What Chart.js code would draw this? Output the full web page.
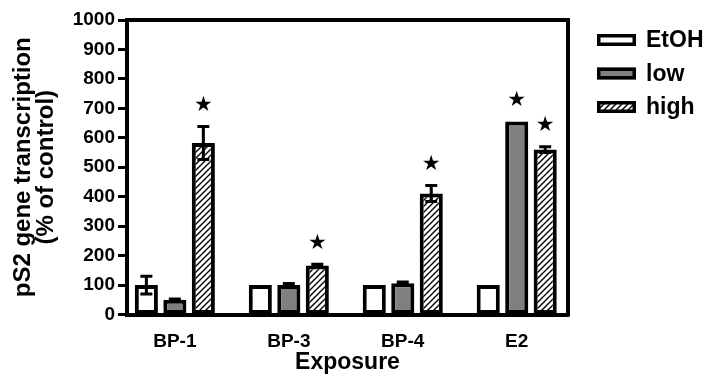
<!DOCTYPE html>
<html>
<head>
<meta charset="utf-8">
<script src="https://cdn.jsdelivr.net/npm/chart.js@4/dist/chart.umd.min.js"></script>
<style>
  html, body { margin: 0; padding: 0; background: #fff; }
  #wrap { width: 709px; height: 376px; position: relative; }
</style>
</head>
<body>
<div id="wrap"><canvas id="c" width="709" height="376"></canvas></div>
<script>
// Exposure groups and treatment series
const categories = ['BP-1', 'BP-3', 'BP-4', 'E2'];
const seriesNames = ['EtOH', 'low', 'high'];

// pS2 transcription, % of control
const etohValues = [100, 100, 100, 100];
const lowValues  = [50, 100, 106, 655];
const highValues = [582, 166, 411, 560];

// standard error
const etohErrors = [30, 0, 0, 0];
const lowErrors  = [3, 5, 4, 0];
const highErrors = [56, 5, 27, 10];

// significance markers
const etohStars = [false, false, false, false];
const lowStars  = [false, false, false, true];
const highStars = [true, true, true, true];

const yTicks = [0, 100, 200, 300, 400, 500, 600, 700, 800, 900, 1000];

const FONT = "'Liberation Sans', Arial, sans-serif";

// diagonal hatch fill
function makeHatch() {
  const s = 6;
  const c = document.createElement('canvas');
  c.width = s; c.height = s;
  const g = c.getContext('2d');
  g.fillStyle = '#fff';
  g.fillRect(0, 0, s, s);
  g.strokeStyle = '#000';
  g.lineWidth = 1.4;
  g.beginPath();
  g.moveTo(-1, s + 1); g.lineTo(s + 1, -1);
  g.moveTo(-1, 1); g.lineTo(1, -1);
  g.moveTo(s - 1, s + 1); g.lineTo(s + 1, s - 1);
  g.stroke();
  return g.createPattern(c, 'repeat');
}

const ctx = document.getElementById('c').getContext('2d');
const hatch = makeHatch();

function toPoints(vals) { return vals.map((v, i) => ({ x: i, y: v })); }

const datasets = [
  { label: seriesNames[0], data: toPoints(etohValues), backgroundColor: '#ffffff', errors: etohErrors, stars: etohStars },
  { label: seriesNames[1], data: toPoints(lowValues),  backgroundColor: '#808080', errors: lowErrors,  stars: lowStars },
  { label: seriesNames[2], data: toPoints(highValues), backgroundColor: hatch,     errors: highErrors, stars: highStars }
].map(d => Object.assign(d, {
  borderColor: '#000',
  borderWidth: 4,
  borderSkipped: false,
  categoryPercentage: 0.75,
  barPercentage: 0.81
}));

// error bars and significance stars above each bar
const errorBars = {
  id: 'errorBars',
  afterDatasetsDraw(chart) {
    const y = chart.scales.y;
    const c = chart.ctx;
    c.save();
    chart.data.datasets.forEach((ds, di) => {
      const meta = chart.getDatasetMeta(di);
      meta.data.forEach((bar, i) => {
        const v = ds.data[i].y;
        const e = ds.errors[i];
        const yt = y.getPixelForValue(v + e);
        if (e > 0) {
          const yb = y.getPixelForValue(v - e);
          c.strokeStyle = '#000';
          c.lineWidth = 3;
          c.beginPath();
          c.moveTo(bar.x, yt); c.lineTo(bar.x, yb);
          c.moveTo(bar.x - 6, yt); c.lineTo(bar.x + 6, yt);
          c.moveTo(bar.x - 6, yb); c.lineTo(bar.x + 6, yb);
          c.stroke();
        }
        if (ds.stars[i]) {
          c.fillStyle = '#000';
          c.font = "21px 'DejaVu Sans'";
          c.textAlign = 'center';
          c.textBaseline = 'middle';
          c.fillText('\u2605', bar.x, Math.min(yt, y.getPixelForValue(v)) - 21);
        }
      });
    });
    c.restore();
  }
};

// top and right edges of the plot frame
const frame = {
  id: 'frame',
  afterDraw(chart) {
    const a = chart.chartArea;
    const c = chart.ctx;
    c.save();
    c.strokeStyle = '#000';
    c.lineWidth = 4;
    c.beginPath();
    c.moveTo(a.left, a.top);
    c.lineTo(a.right, a.top);
    c.lineTo(a.right, a.bottom + 2);
    c.stroke();
    c.restore();
  }
};

// legend to the right of the plot
const sideLegend = {
  id: 'sideLegend',
  afterDraw(chart) {
    const c = chart.ctx;
    c.save();
    chart.data.datasets.forEach((ds, i) => {
      const cy = 40 + i * 33.5;
      const x = 597, w = 39, h = 12, yy = cy - h / 2;
      c.fillStyle = ds.backgroundColor;
      c.fillRect(x, yy, w, h);
      c.strokeStyle = '#000';
      c.lineWidth = 3.5;
      c.strokeRect(x + 1.75, yy + 1.75, w - 3.5, h - 3.5);
      c.fillStyle = '#000';
      c.font = 'bold 23px ' + FONT;
      c.textAlign = 'left';
      c.textBaseline = 'middle';
      c.fillText(ds.label, 646, cy + 1);
    });
    c.restore();
  }
};

new Chart(ctx, {
  type: 'bar',
  data: { datasets },
  plugins: [errorBars, frame, sideLegend],
  options: {
    responsive: false,
    animation: false,
    layout: { padding: { top: 20, right: 141, bottom: 0, left: 0 } },
    plugins: { legend: { display: false }, tooltip: { enabled: false } },
    scales: {
      x: {
        type: 'linear',
        offset: false,
        min: -0.42,
        max: 3.45,
        afterBuildTicks(s) { s.ticks = categories.map((_, i) => ({ value: i })); },
        afterFit(s) { s.height = 61.5; },
        grid: { drawOnChartArea: false, drawTicks: false },
        border: { color: '#000', width: 4 },
        ticks: {
          color: '#000',
          padding: 16,
          font: { family: FONT, size: 19, weight: 'bold' },
          callback: v => categories[v]
        },
        title: {
          display: true,
          text: 'Exposure',
          color: '#000',
          padding: { top: 0, bottom: 0 },
          font: { family: FONT, size: 23, weight: 'bold' }
        }
      },
      y: {
        min: 0,
        max: 1000,
        afterBuildTicks(s) { s.ticks = yTicks.map(v => ({ value: v })); },
        afterFit(s) { s.width = 127; },
        grid: { drawOnChartArea: false, drawTicks: true, tickLength: 9, tickWidth: 3, tickColor: '#000' },
        border: { color: '#000', width: 4 },
        ticks: {
          color: '#000',
          padding: 3,
          font: { family: FONT, size: 19, weight: 'bold' },
          callback: v => String(v)
        },
        title: {
          display: true,
          text: ['pS2 gene transcription', '(% of control)'],
          color: '#000',
          padding: { top: 12, bottom: 0 },
          font: { family: FONT, size: 24, weight: 'bold', lineHeight: 0.95 }
        }
      }
    }
  }
});
</script>
</body>
</html>
